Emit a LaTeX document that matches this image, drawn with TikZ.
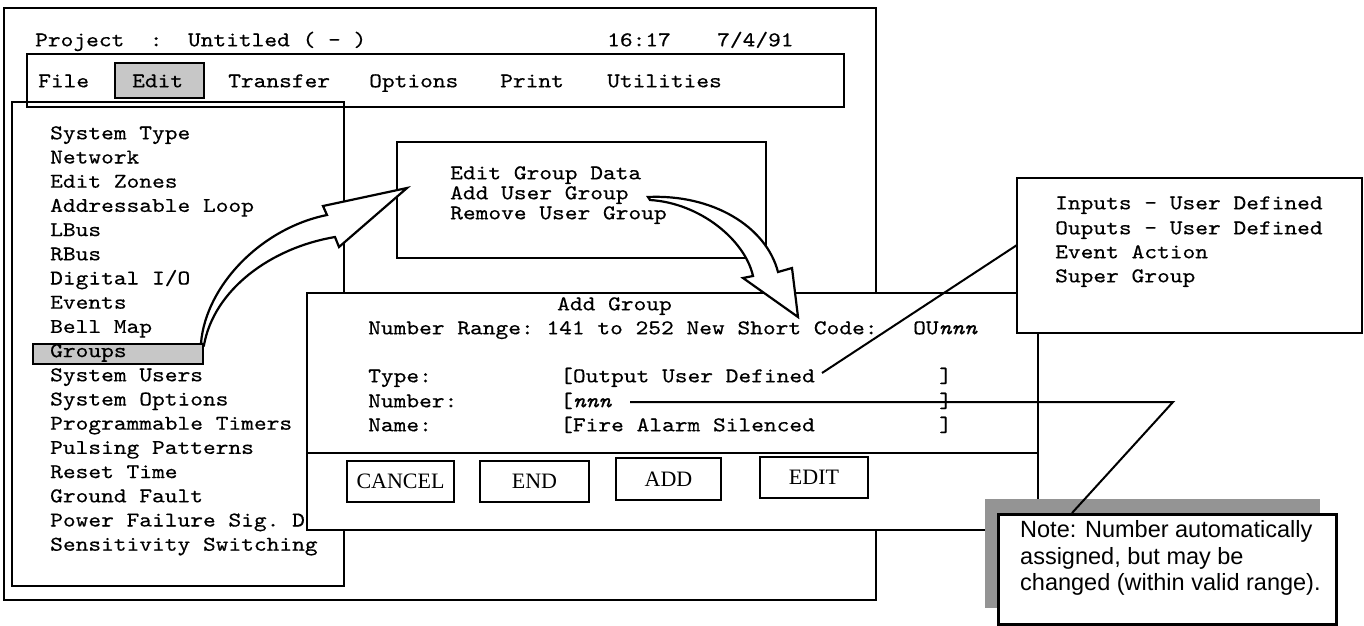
\documentclass[tikz,border=0pt]{standalone}
\usepackage{fontspec}
\setmainfont{Liberation Serif}
\setmonofont[Extension=.otf, UprightFont=lmmono10-regular, ItalicFont=lmmono10-italic, FakeStretch=1.155, FakeBold=0.4]{lmmono10}
\newfontfamily\notefont{Liberation Sans}
\definecolor{hilite}{gray}{0.78}
\definecolor{shadowgray}{gray}{0.58}
\tikzset{
  frame/.style={draw, line width=2pt, inner sep=0pt, outer sep=0pt, anchor=north west},
  panel/.style={frame, fill=white},
  hlbox/.style={frame, line width=2.5pt, fill=hilite},
  mono/.style={font=\fontsize{21}{24}\selectfont\ttfamily, inner sep=0pt, anchor=mid west},
  btn/.style={draw, line width=2pt, fill=white, inner sep=0pt, minimum height=41pt,
              font=\fontsize{22}{24}\selectfont\rmfamily},
  notetext/.style={font=\fontsize{23.5}{26}\selectfont\notefont, inner sep=0pt, anchor=mid west},
  lead/.style={line width=2pt},
  bigarrow/.style={draw, line width=2.2pt, fill=white, line join=miter}
}
\begin{document}
\begin{tikzpicture}[x=1pt,y=-1pt]
\useasboundingbox (0,0) rectangle (1364,625);

% main window
\node[panel, minimum width=872pt, minimum height=592pt] (win) at (4,8) {};
\node[mono] (proj) at (35,44) {Project~~:~~Untitled ( - )};
\node[mono] (clock) at (607,44) {16:17};
\node[mono] (date) at (717,44) {7/4/91};

% menu bar
\node[frame, minimum width=817pt, minimum height=53pt] (menubar) at (27,54) {};
\node[hlbox, minimum width=89pt, minimum height=35pt] (edithl) at (115,63) {};
\node[mono] (mfile) at (38,85) {File};
\node[mono] (medit) at (132,85) {Edit};
\node[mono] (mtransfer) at (228,85) {Transfer};
\node[mono] (moptions) at (369,85) {Options};
\node[mono] (mprint) at (500,85) {Print};
\node[mono] (mutil) at (607,85) {Utilities};

% Edit drop-down
\node[frame, minimum width=332pt, minimum height=484pt] (drop) at (12,102) {};
\node[hlbox, line width=2pt, minimum width=170pt, minimum height=20pt] (grouphl) at (33,344) {};
\foreach \t [count=\i from 0] in {System Type, Network, Edit Zones, Addressable Loop,
  LBus, RBus, Digital I/O, Events, Bell Map, Groups, System Users, System Options,
  Programmable Timers, Pulsing Patterns, Reset Time, Ground Fault,
  Power Failure Sig. D, Sensitivity Switching}
  \node[mono] (item\i) at (50,{137+24.2*\i}) {\t};

% Groups sub-menu
\node[frame, line width=2.5pt, minimum width=369pt, minimum height=116pt] (sub) at (397,142) {};
\node[mono] (subedit) at (450,177) {Edit Group Data};
\node[mono] (subadd) at (450,197) {Add User Group};
\node[mono] (subremove) at (450,217) {Remove User Group};

% Add Group dialog
\node[panel, minimum width=731pt, minimum height=237pt] (dlg) at (307,293) {};
\draw[line width=2pt] (dlg.west |- 0,453) coordinate (sepl) -- (dlg.east |- 0,453) coordinate (sepr);
\node[mono] (dlgtitle) at (557,308) {Add Group};
\node[mono] (range) at (368,332) {Number Range: 141 to 252 New Short Code:};
\node[mono] (code) at (913,332) {OU\textit{nnn}};
\node[mono] (ltype) at (368,380) {Type:};
\node[mono] (vtype) at (560,380) {[Output User Defined};
\node[mono] (ctype) at (939,380) {]};
\node[mono] (lnum) at (368,405) {Number:};
\node[mono] (vnum) at (560,405) {[\textit{nnn}};
\node[mono] (cnum) at (939,405) {]};
\node[mono] (lname) at (368,429) {Name:};
\node[mono] (vname) at (560,429) {[Fire Alarm Silenced};
\node[mono] (cname) at (939,429) {]};

\node[btn, minimum width=107pt] (bcancel) at (400.5,481.5) {CANCEL};
\node[btn, minimum width=109pt] (bend) at (534.5,481.5) {END};
\node[btn, minimum width=105pt, minimum height=42pt] (badd) at (668.5,479) {ADD};
\node[btn, minimum width=108pt] (bedit) at (814,477.5) {EDIT};

% group type list
\node[panel, minimum width=345pt, minimum height=155pt] (types) at (1017,178) {};
\node[mono] (tin) at (1055,207) {Inputs - User Defined};
\node[mono] (tout) at (1055,232) {Ouputs - User Defined};
\node[mono] (tevent) at (1055,256) {Event Action};
\node[mono] (tsuper) at (1055,280) {Super Group};

% callout from the Type field to the list
\coordinate (typefrom) at (822,373);
\coordinate (typeto) at (1017,245);
\draw[lead] (typefrom) -- (typeto);

% broad arrows
\draw[bigarrow] (201,343) .. controls (206,285) and (262,228) .. (327,215)
  -- (323,206) -- (407,188) -- (339,247) -- (335,237)
  .. controls (270,248) and (214,290) .. (204,345) -- cycle;
\draw[bigarrow] (648,197) .. controls (712,194) and (766,226) .. (778,272)
  -- (792,268) -- (798,317) -- (743,278) -- (753,276)
  .. controls (745,240) and (700,203) .. (650,200) -- cycle;

% note with drop shadow
\node[fill=shadowgray, inner sep=0pt, anchor=north west, minimum width=335pt, minimum height=109pt] (noteshadow) at (985,499) {};
\node[draw, line width=3pt, fill=white, inner sep=0pt, anchor=north west, minimum width=338pt, minimum height=110pt] (note) at (997,513) {};
\node[notetext] (n1) at (1020,535) {Note: Number automatically};
\node[notetext] (n2) at (1020,562) {assigned, but may be};
\node[notetext] (n3) at (1020,588) {changed (within valid range).};

% callout from the Number field to the note
\coordinate (numfrom) at (630,402);
\coordinate (numbend) at (1173,402);
\coordinate (numto) at (1072,513);
\draw[lead] (numfrom) -- (numbend) -- (numto);
\end{tikzpicture}
\end{document}
